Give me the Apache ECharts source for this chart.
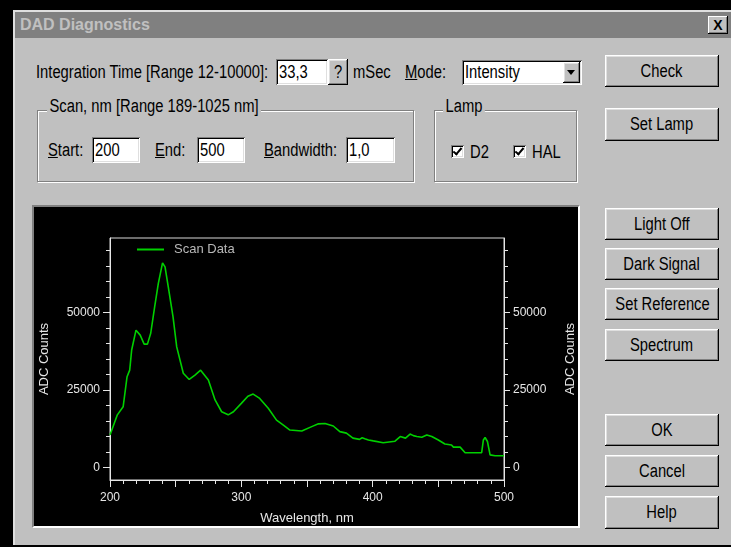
<!DOCTYPE html>
<html><head><meta charset="utf-8">
<script src="https://cdn.jsdelivr.net/npm/echarts@6/dist/echarts.min.js"></script>
<style>
html,body{margin:0;padding:0;}
body{width:731px;height:547px;background:#000;position:relative;overflow:hidden;font-family:"Liberation Sans",Arial,sans-serif;}
.abs{position:absolute;box-sizing:border-box;}
.dlg{left:13px;top:10px;width:718px;height:535px;background:#c0c0c0;border-top:2px solid #dfdfdf;border-left:2px solid #dfdfdf;}
.title{left:15px;top:12px;width:716px;height:26px;background:#808080;color:#c0c0c0;font:bold 16px "Liberation Sans",Arial,sans-serif;line-height:26px;padding-left:5px;}
.close{left:708px;top:16px;width:20px;height:18px;background:#c0c0c0;font:bold 14px "Liberation Sans",Arial,sans-serif;line-height:18px;text-align:center;color:#000;
 box-shadow:inset -1px -1px #000,inset 1px 1px #fff,inset -2px -2px #808080;}
.t{position:absolute;font-size:18px;line-height:20px;height:20px;color:#000;white-space:nowrap;transform:scaleX(0.82);transform-origin:0 50%;}
.n{display:inline-block;transform:scaleX(0.82);transform-origin:50% 50%;white-space:nowrap;}
.nl{display:inline-block;transform:scaleX(0.82);transform-origin:0 50%;white-space:nowrap;}
.btn{position:absolute;box-sizing:border-box;background:#c0c0c0;text-align:center;font-size:18px;color:#000;
 box-shadow:inset -1px -1px #000,inset 1px 1px #fff,inset -2px -2px #808080,inset 2px 2px #dfdfdf;}
.inp{position:absolute;box-sizing:border-box;background:#fff;font-size:18px;color:#000;padding-left:3px;
 box-shadow:inset 1px 1px #808080,inset -1px -1px #fff,inset 2px 2px #000,inset -2px -2px #dfdfdf;}
.grp{position:absolute;box-sizing:border-box;border:1px solid #808080;box-shadow:1px 1px 0 #fff,inset 1px 1px 0 #fff;}
.glab{background:#c0c0c0;padding:0 3px;}
.cb{position:absolute;width:13px;height:13px;box-sizing:border-box;background:#fff;
 box-shadow:inset 1px 1px #808080,inset -1px -1px #fff,inset 2px 2px #000,inset -2px -2px #dfdfdf;}
.cb::after{content:"";position:absolute;left:4px;top:1px;width:3px;height:7px;border:solid #000;border-width:0 2px 2px 0;transform:rotate(40deg);}
.panel{left:32px;top:205px;width:548px;height:323px;border:2px solid;border-color:#808080 #fff #fff #808080;background:#000;}
#chart{position:absolute;left:34px;top:207px;width:544px;height:319px;}
.arrow{position:absolute;right:2px;top:2px;width:17px;height:21px;box-sizing:border-box;background:#c0c0c0;
 box-shadow:inset -1px -1px #000,inset 1px 1px #fff,inset -2px -2px #808080,inset 2px 2px #dfdfdf;}
.arrow::after{content:"";position:absolute;left:4px;top:8px;border-left:4px solid transparent;border-right:4px solid transparent;border-top:5px solid #000;}
u{text-decoration:underline;}
</style></head>
<body>
<div class="abs dlg"></div>
<div class="abs title">DAD Diagnostics</div>
<div class="abs close">X</div>

<div class="t" style="left:36px;top:62px;">Integration Time [Range 12-10000]:</div>
<div class="inp" style="left:276px;top:59px;width:52px;height:26px;line-height:26px;"><span class="nl">33,3</span></div>
<div class="btn" style="left:328px;top:59px;width:20px;height:26px;line-height:26px;"><span class="n">?</span></div>
<div class="t" style="left:353px;top:62px;">mSec</div>
<div class="t" style="left:405px;top:62px;"><u>M</u>ode:</div>
<div class="inp" style="left:462px;top:60px;width:120px;height:25px;line-height:25px;"><span class="nl">Intensity</span><div class="arrow"></div></div>
<div class="btn" style="left:605px;top:55px;width:114px;height:32px;line-height:32px;"><span class="n">Check</span></div>
<div class="btn" style="left:605px;top:108px;width:114px;height:33px;line-height:33px;"><span class="n">Set Lamp</span></div>

<div class="grp" style="left:37px;top:110px;width:377px;height:72px;"></div>
<div class="t" style="left:47px;top:96px;"><span class="glab">Scan, nm [Range 189-1025 nm]</span></div>
<div class="t" style="left:48px;top:140px;"><u>S</u>tart:</div>
<div class="inp" style="left:92px;top:137px;width:48px;height:26px;line-height:26px;"><span class="nl">200</span></div>
<div class="t" style="left:155px;top:140px;"><u>E</u>nd:</div>
<div class="inp" style="left:197px;top:137px;width:48px;height:26px;line-height:26px;"><span class="nl">500</span></div>
<div class="t" style="left:264px;top:140px;"><u>B</u>andwidth:</div>
<div class="inp" style="left:346px;top:137px;width:49px;height:26px;line-height:26px;"><span class="nl">1,0</span></div>

<div class="grp" style="left:434px;top:110px;width:143px;height:72px;"></div>
<div class="t" style="left:443px;top:96px;"><span class="glab">Lamp</span></div>
<div class="cb" style="left:451px;top:145px;"></div>
<div class="t" style="left:470px;top:142px;">D2</div>
<div class="cb" style="left:513px;top:145px;"></div>
<div class="t" style="left:532px;top:142px;">HAL</div>

<div class="btn" style="left:605px;top:208px;width:114px;height:32px;line-height:32px;"><span class="n">Light Off</span></div>
<div class="btn" style="left:605px;top:248px;width:114px;height:32px;line-height:32px;"><span class="n">Dark Signal</span></div>
<div class="btn" style="left:605px;top:288px;width:114px;height:32px;line-height:32px;"><span class="n">Set Reference</span></div>
<div class="btn" style="left:605px;top:329px;width:114px;height:32px;line-height:32px;"><span class="n">Spectrum</span></div>
<div class="btn" style="left:605px;top:414px;width:114px;height:32px;line-height:32px;"><span class="n">OK</span></div>
<div class="btn" style="left:605px;top:455px;width:114px;height:32px;line-height:32px;"><span class="n">Cancel</span></div>
<div class="btn" style="left:605px;top:496px;width:114px;height:33px;line-height:33px;"><span class="n">Help</span></div>

<div class="abs panel"></div>
<div id="chart"></div>

<script>
// Scan data (wavelength nm, ADC counts)
const wavelengths = [200, 205.6, 210, 213, 215, 216.5, 219.8, 223, 226, 228.5, 231, 234, 236.8, 240, 241.9, 244.4, 248, 250.8, 255.8, 260.3, 264.7, 269, 274.9, 280, 285, 290, 294, 300, 305, 309, 314, 320.5, 326.8, 332, 337, 346, 353.6, 358.7, 363.7, 370, 375, 380, 385, 390, 392, 394, 396.8, 400.5, 408, 417, 421, 425, 428.5, 431, 433.6, 437.4, 441.2, 445, 450, 455, 460, 461.5, 466.6, 470.4, 483, 484.3, 485.6, 487.4, 489.4, 493.2, 500];
const adcCounts = [10500, 17000, 19600, 29300, 31400, 37900, 44300, 42700, 39800, 39800, 43300, 51800, 59400, 66000, 64700, 58200, 48600, 38900, 30400, 28400, 29800, 31400, 28200, 21800, 18000, 17000, 18000, 20700, 23000, 23700, 22300, 19100, 15300, 13700, 12100, 11800, 13200, 14100, 14200, 13400, 11600, 11100, 9500, 9100, 9600, 9300, 8900, 8600, 8000, 8500, 10000, 9500, 10800, 10300, 10000, 9800, 10500, 10000, 8900, 7600, 7300, 6600, 6600, 4800, 4800, 8900, 9700, 8400, 4100, 3800, 3800];
const seriesName = 'Scan Data';
const xLabelTicks = [200, 300, 400, 500];
const yLabelTicks = [0, 25000, 50000];
const yMinorTicks = [0, 5000, 10000, 15000, 20000, 25000, 30000, 35000, 40000, 45000, 50000, 55000, 60000, 65000, 70000];

const fg = '#e6e6e6';
const plain = v => String(v);
const chart = echarts.init(document.getElementById('chart'), null, {renderer: 'canvas'});
const yBase = {type: 'value', min: -4000, max: 74000, splitLine: {show: false}};
const xBase = {type: 'value', min: 200, max: 500, position: 'bottom', splitLine: {show: false}};
chart.setOption({
  animation: false,
  backgroundColor: '#000',
  textStyle: {fontFamily: '"Liberation Sans", Arial, sans-serif'},
  grid: {left: 76, right: 74, top: 31, bottom: 46, show: true, borderColor: '#d8d8d8', borderWidth: 1,
         containLabel: false, outerBoundsMode: 'none'},
  legend: {
    data: [seriesName], left: 103, top: 36, padding: 0, icon: 'rect', itemWidth: 27, itemHeight: 2,
    textStyle: {color: '#b8b8b8', fontSize: 13, padding: [0, 0, 0, 5]}
  },
  xAxis: [
    Object.assign({}, xBase, {interval: 10,
      axisLine: {onZero: false, lineStyle: {color: fg}},
      axisTick: {length: 4, lineStyle: {color: fg}},
      axisLabel: {show: false}}),
    Object.assign({}, xBase, {interval: 50,
      axisLine: {show: false, onZero: false},
      axisTick: {length: 7, lineStyle: {color: fg}},
      axisLabel: {color: fg, fontSize: 12, margin: 12, customValues: xLabelTicks, formatter: plain},
      name: 'Wavelength, nm', nameLocation: 'middle', nameGap: 32,
      nameTextStyle: {color: fg, fontSize: 13}})
  ],
  yAxis: [
    Object.assign({}, yBase, {position: 'left',
      axisLine: {show: true, onZero: false, lineStyle: {color: fg}},
      axisTick: {show: true, length: 4, customValues: yMinorTicks, lineStyle: {color: fg}},
      axisLabel: {show: false}}),
    Object.assign({}, yBase, {position: 'left',
      axisLine: {show: false, onZero: false},
      axisTick: {show: true, length: 7, customValues: yLabelTicks, lineStyle: {color: fg}},
      axisLabel: {color: fg, fontSize: 12, margin: 10, customValues: yLabelTicks, formatter: plain},
      name: 'ADC Counts', nameLocation: 'middle', nameGap: 59, nameRotate: 90,
      nameTextStyle: {color: fg, fontSize: 13}}),
    Object.assign({}, yBase, {position: 'right',
      axisLine: {show: true, onZero: false, lineStyle: {color: fg}},
      axisTick: {show: true, length: 4, customValues: yMinorTicks, lineStyle: {color: fg}},
      axisLabel: {show: false}}),
    Object.assign({}, yBase, {position: 'right',
      axisLine: {show: false, onZero: false},
      axisTick: {show: true, length: 6, customValues: yLabelTicks, lineStyle: {color: fg}},
      axisLabel: {color: fg, fontSize: 12, margin: 9, customValues: yLabelTicks, formatter: plain},
      name: 'ADC Counts', nameLocation: 'middle', nameGap: 60, nameRotate: 90,
      nameTextStyle: {color: fg, fontSize: 13}})
  ],
  series: [{
    name: seriesName, type: 'line', xAxisIndex: 0, yAxisIndex: 0,
    data: wavelengths.map((w, i) => [w, adcCounts[i]]),
    symbol: 'none', itemStyle: {color: '#00d000'},
    lineStyle: {color: '#00d000', width: 1.6}
  }]
});
</script>
</body></html>
